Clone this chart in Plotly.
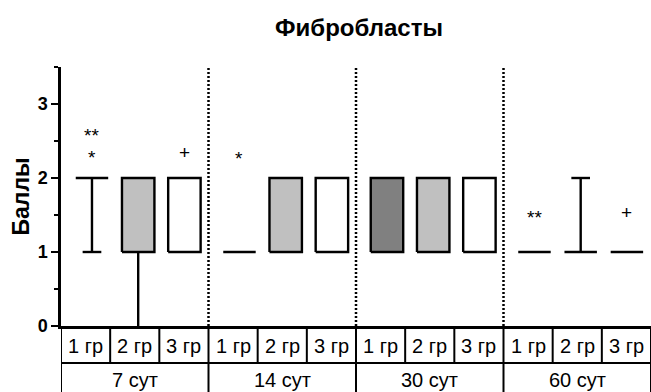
import plotly.graph_objects as go

# ---------------- data ----------------
periods = ["7 сут", "14 сут", "30 сут", "60 сут"]
groups = ["1 гр", "2 гр", "3 гр"]

# period-major order: 7сут(1,2,3), 14сут(1,2,3), 30сут(1,2,3), 60сут(1,2,3)
whisker_min = [1, 0, 1, 1, 1, 1, 1, 1, 1, 1, 1, 1]
box_low     = [2, 1, 1, 1, 1, 1, 1, 1, 1, 1, 1, 1]
box_high    = [2, 2, 2, 1, 2, 2, 2, 2, 2, 1, 1, 1]
whisker_max = [2, 2, 2, 1, 2, 2, 2, 2, 2, 1, 2, 1]

# significance marks
sig_period = ["7 сут", "7 сут", "7 сут", "14 сут", "60 сут", "60 сут"]
sig_group  = ["1 гр", "1 гр", "3 гр", "1 гр", "1 гр", "3 гр"]
sig_text   = ["**", "*", "+", "*", "**", "+"]
sig_level  = [2.57, 2.28, 2.34, 2.26, 1.46, 1.53]

y_ticks = [0, 1, 2, 3]
title = "Фибробласты"
y_title = "Баллы"

# ---------------- styles / layout ----------------
group_fill = ["#808080", "#C0C0C0", "#FFFFFF"]
FONT = "Liberation Sans, Arial, sans-serif"
OFFSET, STEP, BOX_W, CAP_W = 0.63, 0.94, 0.66, 0.38
LW = 2.4
Y_MIN, Y_MAX = 0, 3.5

W, H = 651, 392
ML, MR, MT, MB = 61, 0, 67, 66
plot_h = H - MT - MB
base_px = H - MB  # pixel row of y = 0


def center(pi, gi):
    return pi * len(groups) + OFFSET + STEP * gi


def paper_y(px):
    return -(px - base_px) / plot_h


def whisker(c, a, b):
    xs, ys = [c, c], [a, b]
    if b != Y_MIN:  # cap hidden by the axis line otherwise
        xs += [None, c - CAP_W / 2, c + CAP_W / 2]
        ys += [None, b, b]
    return go.Scatter(x=xs, y=ys, mode="lines", line=dict(color="black", width=LW),
                      hoverinfo="skip", showlegend=False)


fig = go.Figure()

for pi, p in enumerate(periods):
    for gi, g in enumerate(groups):
        k = pi * len(groups) + gi
        c = center(pi, gi)
        if whisker_max[k] > box_high[k]:
            fig.add_trace(whisker(c, box_high[k], whisker_max[k]))
        if whisker_min[k] < box_low[k]:
            fig.add_trace(whisker(c, box_low[k], whisker_min[k]))
        lo, hi = box_low[k], box_high[k]
        fig.add_trace(go.Scatter(
            x=[c - BOX_W / 2, c + BOX_W / 2, c + BOX_W / 2, c - BOX_W / 2, c - BOX_W / 2],
            y=[lo, lo, hi, hi, lo],
            mode="lines", fill="toself" if hi > lo else None,
            fillcolor=group_fill[gi],
            line=dict(color="black", width=LW),
            hoverinfo="skip", showlegend=False))

annotations = []
for p, g, t, lv in zip(sig_period, sig_group, sig_text, sig_level):
    c = center(periods.index(p), groups.index(g))
    annotations.append(dict(x=c, y=lv, xref="x", yref="y", text=t, showarrow=False,
                            font=dict(family=FONT, size=19, color="black"),
                            xanchor="center", yanchor="middle"))

shapes = []
row1 = paper_y(363)
bottom = paper_y(H + 4)
n = len(periods) * len(groups)
# dotted separators
for pi in range(1, len(periods)):
    x0 = pi * len(groups)
    shapes.append(dict(type="line", xref="x", yref="paper", x0=x0, x1=x0, y0=0, y1=1,
                       line=dict(color="black", width=2.5, dash="2px,2px")))
# table grid
for k in range(0, n + 1):
    full = (k % len(groups) == 0)
    shapes.append(dict(type="line", xref="x", yref="paper", x0=k, x1=k,
                       y0=0, y1=bottom if full else row1,
                       line=dict(color="black", width=2)))
shapes.append(dict(type="line", xref="x", yref="paper", x0=0, x1=n, y0=row1, y1=row1,
                   line=dict(color="black", width=2)))

for pi, p in enumerate(periods):
    for gi, g in enumerate(groups):
        k = pi * len(groups) + gi
        annotations.append(dict(x=k + 0.5, y=paper_y(346), xref="x", yref="paper",
                                text=g, showarrow=False, xanchor="center", yanchor="middle",
                                font=dict(family=FONT, size=20, color="black")))
    annotations.append(dict(x=pi * len(groups) + len(groups) / 2, y=paper_y(380),
                            xref="x", yref="paper", text=p, showarrow=False,
                            xanchor="center", yanchor="middle",
                            font=dict(family=FONT, size=20, color="black")))

annotations.append(dict(x=-(ML - 20) / (W - ML - MR), y=0.5, xref="paper", yref="paper",
                        text=f"<b>{y_title}</b>", textangle=-90, showarrow=False,
                        xanchor="center", yanchor="middle",
                        font=dict(family=FONT, size=23, color="black")))

fig.update_layout(
    width=W, height=H,
    margin=dict(l=ML, r=MR, t=MT, b=MB, pad=0),
    paper_bgcolor="white", plot_bgcolor="white",
    title=dict(text=f"<b>{title}</b>", x=359 / W, xanchor="center",
               y=1 - 28 / H, yanchor="middle", yref="container",
               font=dict(family=FONT, size=24, color="black")),
    xaxis=dict(range=[0, n], showline=True, linecolor="black", linewidth=2.5,
               showticklabels=False, ticks="", showgrid=False, zeroline=False, fixedrange=True),
    yaxis=dict(range=[Y_MIN, Y_MAX], tickvals=y_ticks, ticktext=[f"<b>{v}</b>" for v in y_ticks],
               showline=True, linecolor="black", linewidth=2.5,
               ticks="outside", ticklen=7, tickwidth=2, tickcolor="black",
               minor=dict(dtick=0.5, ticks="outside", ticklen=4, tickwidth=2, tickcolor="black"),
               tickfont=dict(family=FONT, size=18, color="black"),
               showgrid=False, zeroline=False, fixedrange=True),
    shapes=shapes,
    annotations=annotations,
)

fig.write_html("out.html", config={"displayModeBar": False},
               post_script="document.body.style.margin='0';document.body.style.padding='0';")
